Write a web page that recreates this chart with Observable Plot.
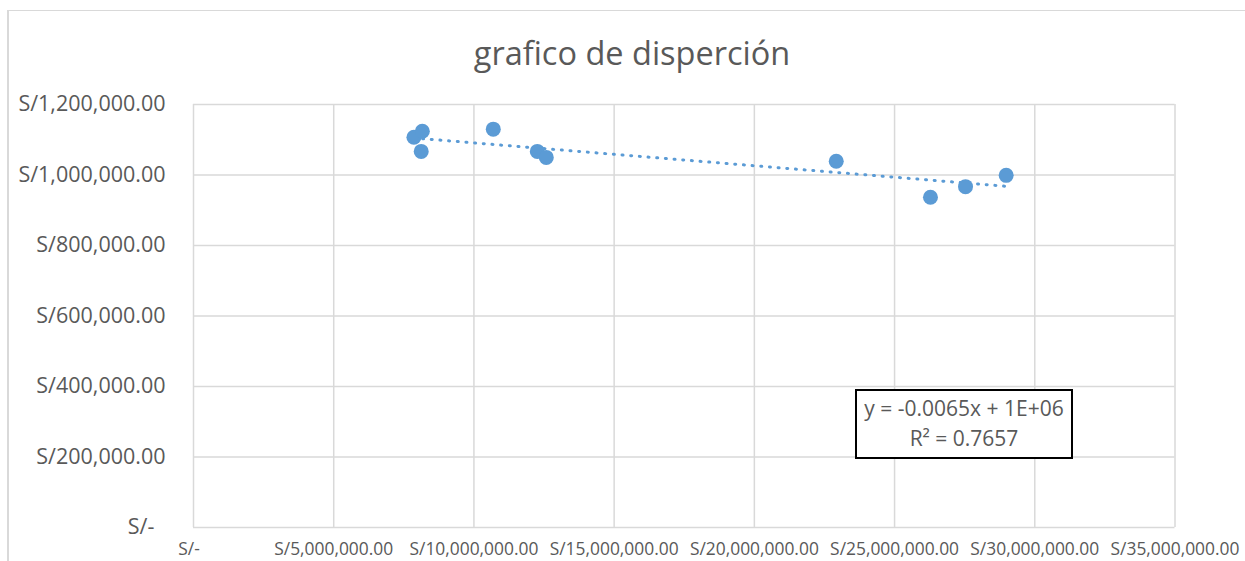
<!DOCTYPE html>
<html>
<head>
<meta charset="utf-8">
<script src="https://cdn.jsdelivr.net/npm/d3@7"></script>
<script src="https://cdn.jsdelivr.net/npm/@observablehq/plot@0.6"></script>
<style>
  html, body { margin: 0; padding: 0; background: #fff; }
  #wrap { position: relative; width: 1245px; height: 561px; overflow: hidden; font-family: "Open Sans", sans-serif; }
  #border { position: absolute; left: 7px; top: 10px; width: 1400px; height: 700px; border-left: 2px solid #d9d9d9; border-top: 1px solid #d9d9d9; }
  #title { position: absolute; left: 0; width: 1264px; top: 37px; text-align: center; font-size: 32.5px; color: #595959; line-height: 1; }
  #eq { position: absolute; left: 855px; top: 389px; width: 214px; height: 64px; border: 2px solid #000; background: #fff;
        color: #595959; font-size: 21px; text-align: center; line-height: 30px; padding-top: 2px; white-space: nowrap; }
  #chart { position: absolute; left: 0; top: 0; }
</style>
</head>
<body>
<div id="wrap">
  <div id="border"></div>
  <div id="chart"></div>
  <div id="title">grafico de disperción</div>
  <div id="eq">y = -0.0065x + 1E+06<br>R² = 0.7657</div>
</div>
<script>
// Data (x: S/, y: S/)
const xValues = [7860000, 8160000, 8120000, 10690000, 12260000, 12580000, 22920000, 26280000, 27530000, 28980000];
const yValues = [1107000, 1124000, 1067000, 1130000, 1067000, 1050000, 1039000, 937000, 967000, 999000];
const xTicks = [0, 5000000, 10000000, 15000000, 20000000, 25000000, 30000000, 35000000];
const yTicks = [0, 200000, 400000, 600000, 800000, 1000000, 1200000];

const data = xValues.map((x, i) => ({x, y: yValues[i]}));
const money = d => d === 0 ? "S/-\u00a0\u00a0" : "S/" + d3.format(",.2f")(d);
const blue = "#5B9BD5";

const plot = Plot.plot({
  width: 1245,
  height: 561,
  marginLeft: 193,
  marginRight: 70.5,
  marginTop: 104,
  marginBottom: 34,
  style: { fontFamily: "'Open Sans', sans-serif", background: "transparent", color: "#595959" },
  x: { domain: [0, 35000000], label: null },
  y: { domain: [0, 1200000], label: null },
  marks: [
    Plot.ruleX(xTicks, { x: d => d, stroke: "#d9d9d9", strokeWidth: 1.5 }),
    Plot.ruleY(yTicks, { y: d => d, stroke: "#d9d9d9", strokeWidth: 1.5 }),
    Plot.axisX({ ticks: xTicks, tickFormat: money, tickSize: 0, tickPadding: 15, fontSize: 17.4, fill: "#595959", label: null }),
    Plot.axisY({ ticks: yTicks, tickFormat: money, tickSize: 0, tickPadding: 28, fontSize: 21.5, fill: "#595959", label: null }),
    Plot.linearRegressionY(data, { x: "x", y: "y", ci: 0, stroke: blue, strokeWidth: 3, strokeLinecap: "round", strokeDasharray: "1 7.7" }),
    Plot.dot(data, { x: "x", y: "y", r: 7.5, fill: blue, stroke: "none" })
  ]
});
document.getElementById("chart").appendChild(plot);
</script>
</body>
</html>
